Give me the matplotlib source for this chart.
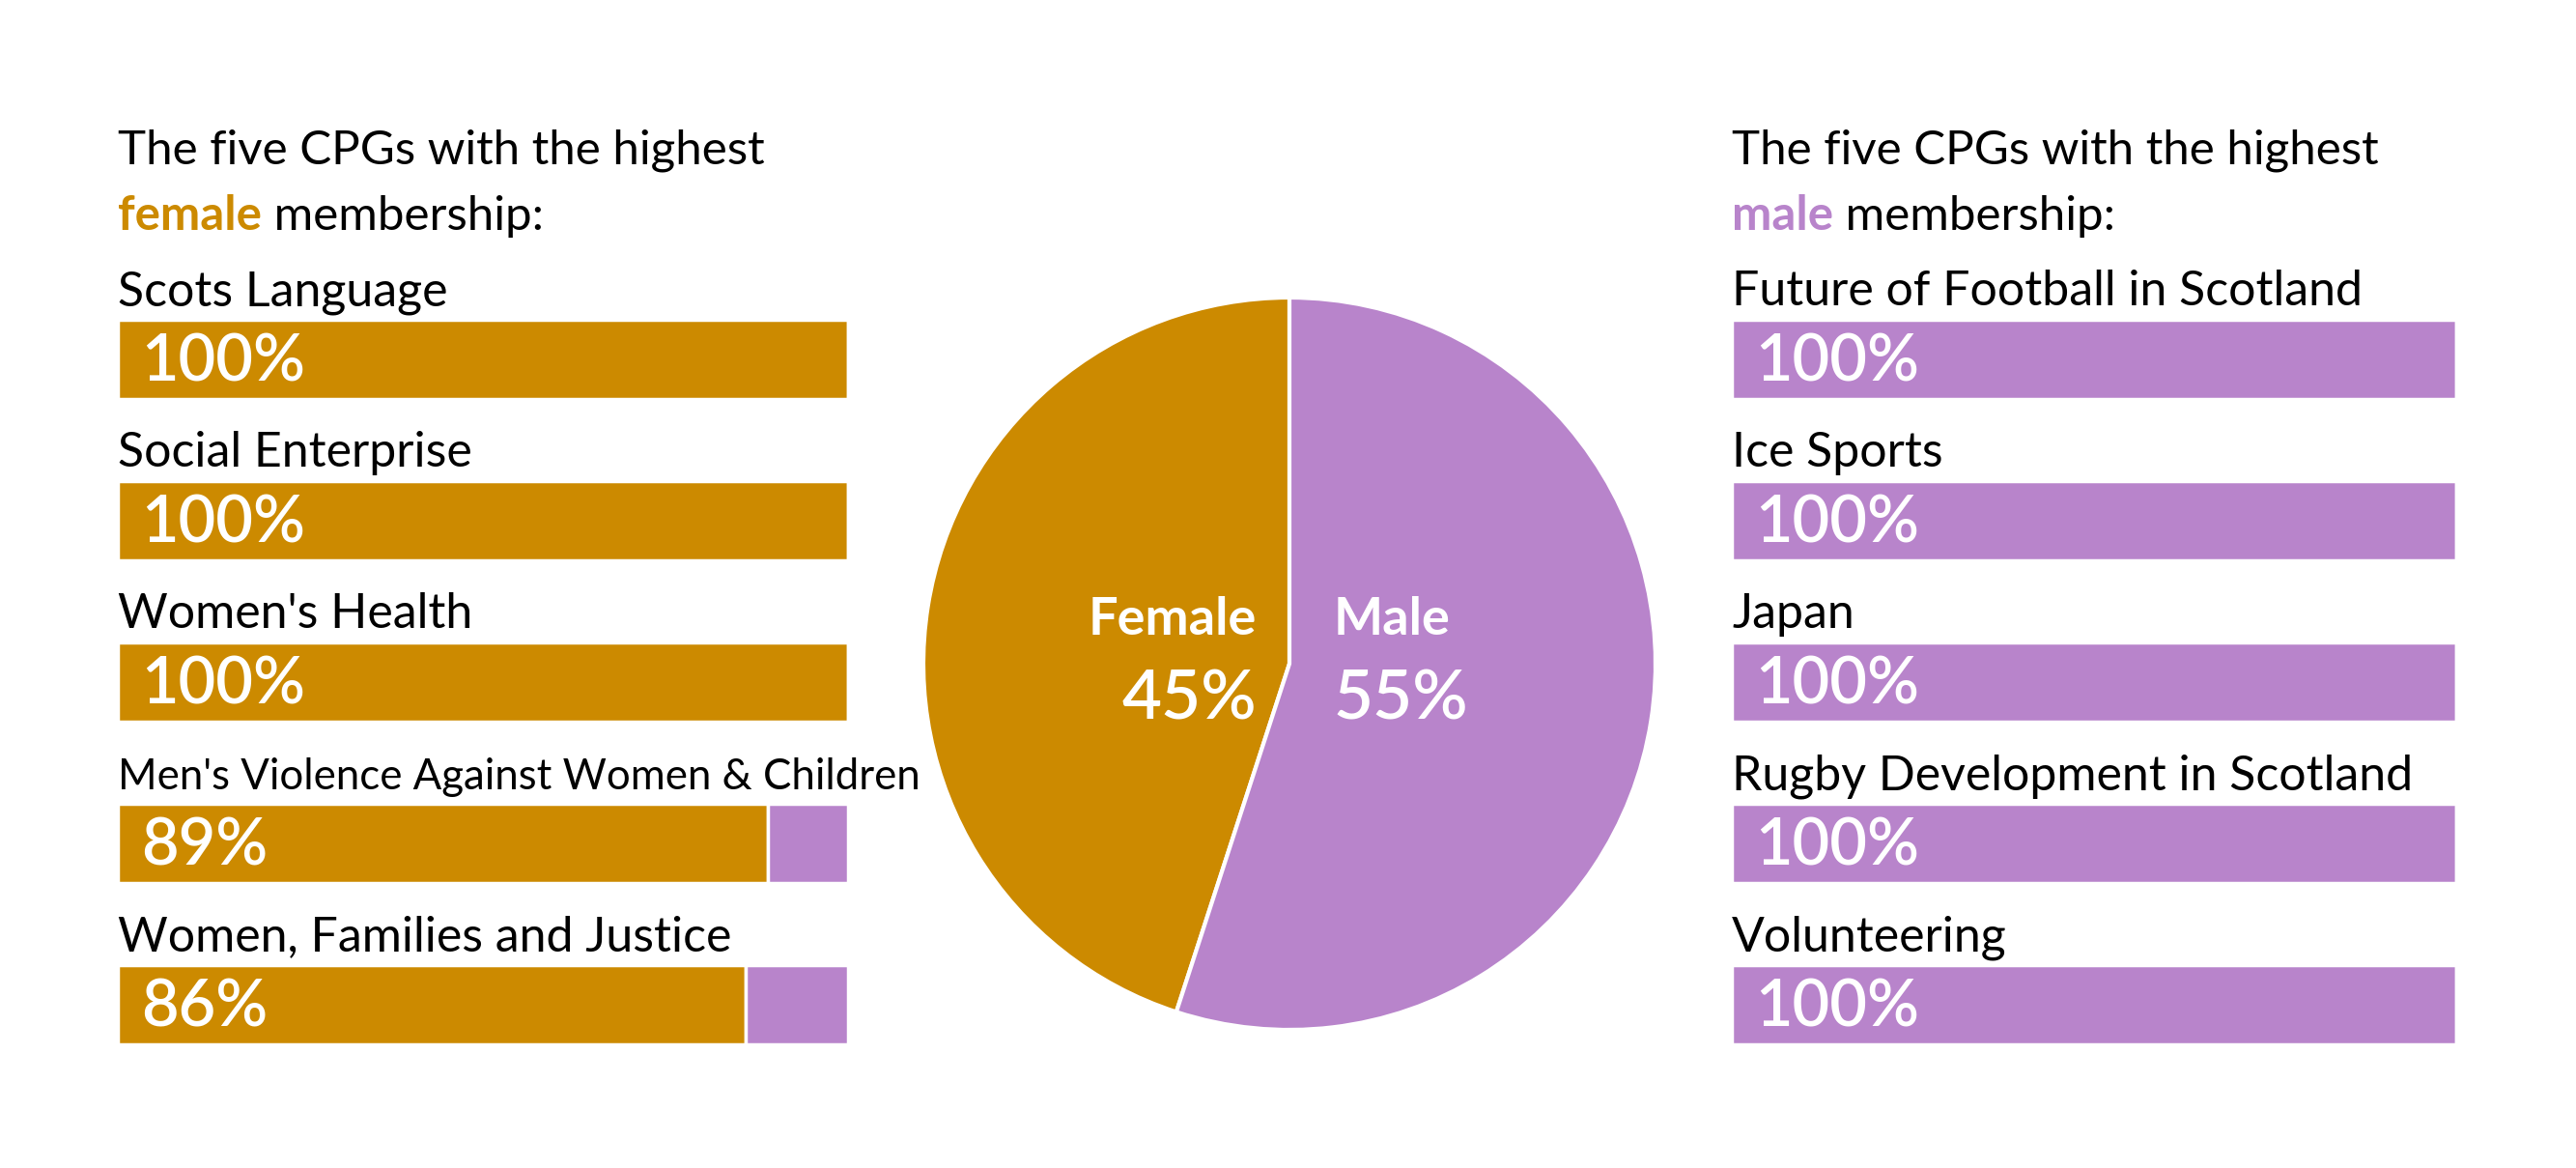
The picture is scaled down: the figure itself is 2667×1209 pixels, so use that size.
import matplotlib.pyplot as plt

plt.rcParams['font.family'] = ['Lato', 'DejaVu Sans']

GOLD = "#CC8A00"
PURPLE = "#B884CB"

# pie: overall membership
pie_labels = ["Female", "Male"]
pie_values = [45, 55]

# five CPGs with highest female share
female_groups = ["Scots Language", "Social Enterprise", "Women's Health",
                 "Men's Violence Against Women & Children", "Women, Families and Justice"]
female_share = [100, 100, 100, 89, 86]

# five CPGs with highest male share
male_groups = ["Future of Football in Scotland", "Ice Sports", "Japan",
               "Rugby Development in Scotland", "Volunteering"]
male_share = [100, 100, 100, 100, 100]

W, H = 2667, 1209
fig = plt.figure(figsize=(W / 100, H / 100), dpi=100)


def px_axes(x0, y0, x1, y1):
    # axes from pixel box (top-left origin)
    return fig.add_axes([x0 / W, 1 - y1 / H, (x1 - x0) / W, (y1 - y0) / H])


def bar_panel(x0, x1, names, share, main, other, title_word):
    ax = px_axes(x0, 205, x1, 1123.5)
    ax.set_xlim(0, 100)
    ax.set_ylim(4.5, -1.0)
    ax.axis("off")
    rest = [100 - s for s in share]
    ax.barh(range(5), share, height=0.49, color=main, edgecolor="white", linewidth=2.5)
    ax.barh(range(5), rest, left=share, height=0.49, color=other, edgecolor="white", linewidth=2.5)
    for i, (n, s) in enumerate(zip(names, share)):
        fs = 31.5 if len(n) > 32 else 36
        ax.text(0, i - 0.335, n, fontsize=fs, va="baseline", ha="left")
        ax.text(3.2, i + 0.02, f"{s}%", fontsize=48, color="white", va="center", ha="left",
                fontweight="semibold")
    # title
    fig.text(x0 / W, 1 - 170 / H, "The five CPGs with the highest", fontsize=35.5, va="baseline")
    t1 = fig.text(x0 / W, 1 - 238 / H, title_word, fontsize=35.5, va="baseline",
                  color=main, fontweight="bold")
    t2 = fig.text(0, 1 - 238 / H, " membership:", fontsize=35.5, va="baseline")
    return ax, t1, t2


axl, tl1, tl2 = bar_panel(122, 878, female_groups, female_share, GOLD, PURPLE, "female")
axr, tr1, tr2 = bar_panel(1793, 2543, male_groups, male_share, PURPLE, GOLD, "male")

# place " membership:" right after the coloured word
fig.canvas.draw()
r = fig.canvas.get_renderer()
for t1, t2 in ((tl1, tl2), (tr1, tr2)):
    bb = t1.get_window_extent(r)
    t2.set_x(bb.x1 / W)

# pie
cx, cy, rad = 1335, 687, 379
axp = px_axes(cx - 1.05 * rad, cy - 1.05 * rad, cx + 1.05 * rad, cy + 1.05 * rad)
axp.pie(pie_values, colors=[GOLD, PURPLE], startangle=90, counterclock=True,
        wedgeprops=dict(edgecolor="white", linewidth=3))
axp.set_xlim(-1.05, 1.05)
axp.set_ylim(-1.05, 1.05)
axp.text(-0.09, 0.079, pie_labels[0], fontsize=39, fontweight="bold", color="white",
         ha="right", va="baseline")
axp.text(-0.09, -0.153, f"{pie_values[0]}%", fontsize=51, color="white", ha="right",
         va="baseline", fontweight="semibold")
axp.text(0.121, 0.079, pie_labels[1], fontsize=39, fontweight="bold", color="white",
         ha="left", va="baseline")
axp.text(0.121, -0.153, f"{pie_values[1]}%", fontsize=51, color="white", ha="left",
         va="baseline", fontweight="semibold")

fig.savefig("out.png", dpi=100, facecolor="white")
